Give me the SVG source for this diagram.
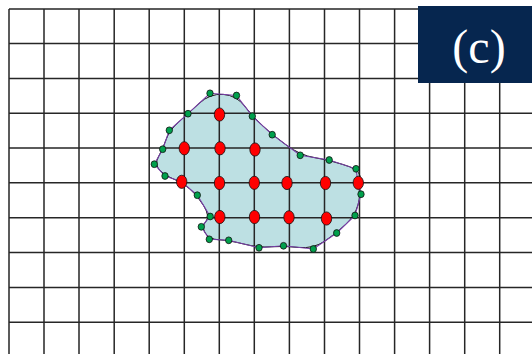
<svg xmlns="http://www.w3.org/2000/svg" width="532" height="354" viewBox="0 0 532 354">
<style>
.g{stroke:#262626;stroke-width:1.5;fill:none}
.red{fill:#ff0000;stroke:#111;stroke-width:0.8}
.grn{fill:#00a04c;stroke:#111;stroke-width:0.8}
</style>
<rect width="532" height="354" fill="#ffffff"/>
<g id="region">
<path d="M199,103.5 Q210,93.3 223.25,94.4 Q236.5,95.5 244.4,105.85 Q252.3,116.2 262.25,125.45 Q272.2,134.7 286.2,145 Q300.2,155.3 314.7,157.65 Q329.2,160 342.6,164.4 Q359,169 360,175.9 Q360,183 359.5,188.6 Q361,194.2 358,204.85 Q355,215.5 345.85,224.25 Q336.7,233 325,241 Q313.3,249 298.4,247.4 Q283.5,245.8 271.25,246.8 Q259,247.8 243.85,244.05 Q228.7,240.3 219,239.8 Q209.3,239.3 205.3,233.05 Q201.3,226.8 205.75,221.65 Q210.2,216.5 203.75,205.85 Q197.3,195.2 189.15,188.35 Q181,181.5 173,178.75 Q165,176 159.65,170.1 Q154.3,164.2 158.5,156.7 Q162.7,149.2 166,139.75 Q169.3,130.3 178.65,122 Q188,113.7 199,103.5 Z" fill="#bde0e3" stroke="none"/>
</g>
<g id="grid">
<path class="g" d="M9,9V354 M44,9V354 M79,9V354 M114.2,9V354 M149.2,9V354 M184.3,9V354 M219.3,9V354 M254.3,9V354 M289.4,9V354 M324.5,9V354 M359.5,9V354 M394.6,9V354 M429.6,9V354 M464.7,9V354 M499.7,9V354"/>
<path class="g" d="M9,9H532 M9,43.5H532 M9,78.4H532 M9,113.3H532 M9,148H532 M9,182.8H532 M9,217.7H532 M9,252.6H532 M9,287.4H532 M9,322.3H532"/>
</g>
<g id="connectors">
<path d="M199,103.5 Q210,93.3 223.25,94.4 Q236.5,95.5 244.4,105.85 Q252.3,116.2 262.25,125.45 Q272.2,134.7 286.2,145 Q300.2,155.3 314.7,157.65 Q329.2,160 342.6,164.4 Q359,169 360,175.9 Q360,183 359.5,188.6 Q361,194.2 358,204.85 Q355,215.5 345.85,224.25 Q336.7,233 325,241 Q313.3,249 298.4,247.4 Q283.5,245.8 271.25,246.8 Q259,247.8 243.85,244.05 Q228.7,240.3 219,239.8 Q209.3,239.3 205.3,233.05 Q201.3,226.8 205.75,221.65 Q210.2,216.5 203.75,205.85 Q197.3,195.2 189.15,188.35 Q181,181.5 173,178.75 Q165,176 159.65,170.1 Q154.3,164.2 158.5,156.7 Q162.7,149.2 166,139.75 Q169.3,130.3 178.65,122 Q188,113.7 199,103.5 Z" fill="none" stroke="#111" stroke-width="1"/>
<polygon points="210,93.3 236.5,95.5 252.3,116.2 272.2,134.7 300.2,155.3 329.2,160 356,168.8 358,183 361,194.2 355,215.5 336.7,233 313.3,249 283.5,245.8 259,247.8 228.7,240.3 209.3,239.3 201.3,226.8 210.2,216.5 197.3,195.2 181,181.5 165,176 154.3,164.2 162.7,149.2 169.3,130.3 188,113.7" fill="none" stroke="#7a3fa8" stroke-width="1.1"/>
</g>
<g id="inner-points">
<ellipse class="red" cx="219.5" cy="114.5" rx="5.2" ry="6.6"/>
<ellipse class="red" cx="184.3" cy="148.3" rx="5.2" ry="6.6"/>
<ellipse class="red" cx="220" cy="148.3" rx="5.2" ry="6.6"/>
<ellipse class="red" cx="255" cy="149.5" rx="5.2" ry="6.6"/>
<ellipse class="red" cx="181.7" cy="181.8" rx="5.2" ry="6.6"/>
<ellipse class="red" cx="219.5" cy="183" rx="5.2" ry="6.6"/>
<ellipse class="red" cx="254.3" cy="182.8" rx="5.2" ry="6.6"/>
<ellipse class="red" cx="287" cy="183" rx="5.2" ry="6.6"/>
<ellipse class="red" cx="325.5" cy="183" rx="5.2" ry="6.6"/>
<ellipse class="red" cx="358.3" cy="182.8" rx="5.2" ry="6.6"/>
<ellipse class="red" cx="219.8" cy="217" rx="5.2" ry="6.6"/>
<ellipse class="red" cx="254.5" cy="217" rx="5.2" ry="6.6"/>
<ellipse class="red" cx="289" cy="217.3" rx="5.2" ry="6.6"/>
<ellipse class="red" cx="326.5" cy="218.5" rx="5.2" ry="6.6"/>
</g>
<g id="boundary-points">
<ellipse class="grn" cx="210" cy="93.3" rx="3.2" ry="3.4"/>
<ellipse class="grn" cx="236.5" cy="95.5" rx="3.2" ry="3.4"/>
<ellipse class="grn" cx="252.3" cy="116.2" rx="3.2" ry="3.4"/>
<ellipse class="grn" cx="272.2" cy="134.7" rx="3.2" ry="3.4"/>
<ellipse class="grn" cx="300.2" cy="155.3" rx="3.2" ry="3.4"/>
<ellipse class="grn" cx="329.2" cy="160" rx="3.2" ry="3.4"/>
<ellipse class="grn" cx="356" cy="168.8" rx="3.2" ry="3.4"/>
<ellipse class="grn" cx="361" cy="194.2" rx="3.2" ry="3.4"/>
<ellipse class="grn" cx="355" cy="215.5" rx="3.2" ry="3.4"/>
<ellipse class="grn" cx="336.7" cy="233" rx="3.2" ry="3.4"/>
<ellipse class="grn" cx="313.3" cy="249" rx="3.2" ry="3.4"/>
<ellipse class="grn" cx="283.5" cy="245.8" rx="3.2" ry="3.4"/>
<ellipse class="grn" cx="259" cy="247.8" rx="3.2" ry="3.4"/>
<ellipse class="grn" cx="228.7" cy="240.3" rx="3.2" ry="3.4"/>
<ellipse class="grn" cx="209.3" cy="239.3" rx="3.2" ry="3.4"/>
<ellipse class="grn" cx="201.3" cy="226.8" rx="3.2" ry="3.4"/>
<ellipse class="grn" cx="210.2" cy="216.5" rx="3.2" ry="3.4"/>
<ellipse class="grn" cx="197.3" cy="195.2" rx="3.2" ry="3.4"/>
<ellipse class="grn" cx="165" cy="176" rx="3.2" ry="3.4"/>
<ellipse class="grn" cx="154.3" cy="164.2" rx="3.2" ry="3.4"/>
<ellipse class="grn" cx="162.7" cy="149.2" rx="3.2" ry="3.4"/>
<ellipse class="grn" cx="169.3" cy="130.3" rx="3.2" ry="3.4"/>
<ellipse class="grn" cx="188" cy="113.7" rx="3.2" ry="3.4"/>
</g>
<g id="label">
<rect x="418" y="6" width="114" height="77" fill="#06264f"/>
<text x="479" y="63" font-family="'Liberation Serif', 'DejaVu Serif', serif" font-size="48" fill="#ffffff" text-anchor="middle">(c)</text>
</g>
</svg>
